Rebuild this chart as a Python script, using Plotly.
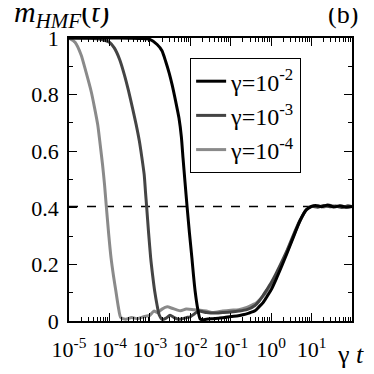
"""m_HMF(t) relaxation curves for three values of gamma, vs gamma*t (log axis)"""

import plotly.graph_objects as go

# gamma = 1e-2 (black)
logx_g2 = [-5.0, -4.0, -3.5, -3.2, -3.0, -2.82, -2.7, -2.61, -2.52, -2.45, -2.36, -2.28,
           -2.22, -2.18, -2.13, -2.08, -2.02, -1.96, -1.92, -1.88, -1.82, -1.76, -1.7, -1.6,
           -1.45, -1.3, -1.15, -1.0, -0.85, -0.7, -0.55, -0.4, -0.3, -0.2, -0.11, 0.0, 0.13,
           0.25, 0.38, 0.54, 0.71, 0.87, 1.0, 1.1, 1.25, 1.4, 1.55, 1.7, 1.85, 2.0]
m_g2 = [1.0, 1.0, 0.999, 0.998, 0.995, 0.977, 0.955, 0.918, 0.875, 0.835, 0.775, 0.717,
        0.65, 0.576, 0.49, 0.405, 0.31, 0.223, 0.16, 0.105, 0.046, 0.008, 0.004, 0.006,
        0.008, 0.01, 0.012, 0.016, 0.018, 0.022, 0.028, 0.036, 0.05, 0.065, 0.085, 0.11, 0.15,
        0.19, 0.235, 0.293, 0.353, 0.393, 0.405, 0.408, 0.404, 0.41, 0.403, 0.407, 0.402, 0.405]

# gamma = 1e-3 (dark grey)
logx_g3 = [-5.0, -4.5, -4.2, -4.0, -3.88, -3.75, -3.63, -3.53, -3.43, -3.34, -3.26, -3.2,
           -3.14, -3.11, -3.08, -3.03, -2.98, -2.93, -2.88, -2.82, -2.77, -2.69, -2.6, -2.5,
           -2.4, -2.3, -2.2, -2.1, -2.0, -1.9, -1.8, -1.6, -1.4, -1.2, -1.0, -0.8, -0.6, -0.4,
           -0.3, -0.2, -0.11, 0.0, 0.13, 0.25, 0.38, 0.54, 0.71, 0.87, 1.0, 1.15, 1.3, 1.45,
           1.6, 1.75, 1.9, 2.0]
m_g3 = [1.0, 0.999, 0.995, 0.985, 0.965, 0.925, 0.87, 0.815, 0.753, 0.695, 0.636, 0.58,
        0.517, 0.46, 0.405, 0.31, 0.223, 0.16, 0.105, 0.055, 0.022, 0.005, 0.01, 0.02,
        0.012, 0.006, 0.008, 0.012, 0.015, 0.025, 0.035, 0.03, 0.028, 0.03, 0.032, 0.035,
        0.04, 0.055, 0.07, 0.09, 0.11, 0.135, 0.17, 0.205, 0.245, 0.3, 0.355, 0.393, 0.405,
        0.402, 0.408, 0.404, 0.406, 0.401, 0.407, 0.404]

# gamma = 1e-4 (light grey)
logx_g4 = [-5.0, -4.85, -4.7, -4.58, -4.45, -4.37, -4.29, -4.23, -4.17, -4.12, -4.08, -4.02,
           -3.96, -3.9, -3.84, -3.78, -3.72, -3.6, -3.45, -3.3, -3.15, -3.0, -2.9, -2.8, -2.7,
           -2.57, -2.45, -2.35, -2.24, -2.1, -1.92, -1.75, -1.6, -1.43, -1.2, -1.0, -0.8,
           -0.6, -0.45, -0.36, -0.25, -0.11, 0.0, 0.13, 0.25, 0.38, 0.54, 0.71, 0.87, 1.0,
           1.15, 1.3, 1.45, 1.6, 1.75, 1.9, 2.0]
m_g4 = [1.0, 0.985, 0.94, 0.88, 0.81, 0.755, 0.694, 0.625, 0.552, 0.48, 0.41, 0.31,
        0.223, 0.16, 0.105, 0.05, 0.012, 0.006, 0.012, 0.008, 0.015, 0.02, 0.035, 0.03,
        0.042, 0.05, 0.045, 0.04, 0.036, 0.042, 0.04, 0.038, 0.035, 0.03, 0.035, 0.038,
        0.04, 0.048, 0.058, 0.065, 0.08, 0.105, 0.13, 0.165, 0.2, 0.24, 0.295, 0.352,
        0.392, 0.404, 0.406, 0.403, 0.409, 0.404, 0.406, 0.402, 0.405]

m_qss = 0.405  # dashed reference level
x_decades = [-5, -4, -3, -2, -1, 0, 1]
y_ticks = [0, 0.2, 0.4, 0.6, 0.8, 1]
y_ticklabels = ["0", "0.2", "0.4", "0.6", "0.8", "1"]

FONT = "Liberation Serif, serif"

series = [
    ("γ=10<sup>-2</sup>", logx_g2, m_g2, "#000000"),
    ("γ=10<sup>-3</sup>", logx_g3, m_g3, "#444444"),
    ("γ=10<sup>-4</sup>", logx_g4, m_g4, "#8a8a8a"),
]

fig = go.Figure()

# dashed line at the QSS value
fig.add_trace(go.Scatter(x=[10 ** -5, 10 ** 2], y=[m_qss, m_qss], mode="lines",
                         line=dict(color="black", width=1.5, dash="dash"),
                         showlegend=False, hoverinfo="skip"))

# draw the lightest curve first, keep legend order as in the picture
for rank, (name, lx, m, col) in reversed(list(enumerate(series))):
    fig.add_trace(go.Scatter(x=[10 ** v for v in lx], y=m, mode="lines", name=name,
                             line=dict(color=col, width=3, shape="spline", smoothing=0.6),
                             legendrank=rank + 1))

minor_x = [k * 10 ** d for d in range(-5, 2) for k in range(2, 10)]

fig.update_xaxes(type="log", range=[-5, 2], tickmode="array",
                 tickvals=[10 ** d for d in x_decades],
                 ticktext=["10<sup>%d</sup>" % d for d in x_decades],
                 ticks="inside", ticklen=8, tickwidth=1, tickcolor="black",
                 minor=dict(tickmode="array", tickvals=minor_x, ticks="inside",
                            ticklen=4, tickwidth=1, tickcolor="black", showgrid=False),
                 showline=True, linecolor="black", linewidth=1.5, mirror="allticks",
                 showgrid=False, zeroline=False, ticklabelstandoff=8,
                 layer="above traces",
                 tickfont=dict(family=FONT, size=22, color="black"))
fig.update_yaxes(range=[0, 1], tickmode="array", tickvals=y_ticks, ticktext=y_ticklabels,
                 ticks="inside", ticklen=8, tickwidth=1, tickcolor="black",
                 minor=dict(dtick=0.1, ticks="inside", ticklen=4, tickwidth=1,
                            tickcolor="black", showgrid=False),
                 showline=True, linecolor="black", linewidth=1.5, mirror="allticks",
                 showgrid=False, zeroline=False, ticklabelstandoff=4,
                 layer="above traces",
                 tickfont=dict(family=FONT, size=22, color="black"))

fig.update_layout(
    width=374, height=374,
    margin=dict(l=61, r=30, t=30, b=61),
    paper_bgcolor="white", plot_bgcolor="rgba(0,0,0,0)",
    template="none",
    font=dict(family=FONT, color="black"),
    legend=dict(x=0.428, y=0.929, xanchor="left", yanchor="top",
                bordercolor="black", borderwidth=1, bgcolor="white",
                font=dict(family=FONT, size=24, color="black"),
                itemwidth=30),
    annotations=[
        dict(text="<i>m</i><sub><i>HMF</i></sub>(<i>t</i>)", xref="paper", yref="paper",
             x=-0.2, y=1.01, xanchor="left", yanchor="bottom", showarrow=False,
             font=dict(family=FONT, size=30, color="black")),
        dict(text="(b)", xref="paper", yref="paper", x=1.03, y=1.025,
             xanchor="right", yanchor="bottom", showarrow=False,
             font=dict(family=FONT, size=26, color="black")),
        dict(text="γ <i>t</i>", xref="paper", yref="paper", x=1.05, y=-0.06,
             xanchor="right", yanchor="top", showarrow=False,
             font=dict(family=FONT, size=26, color="black")),
    ],
)

fig.write_html("out.html")
